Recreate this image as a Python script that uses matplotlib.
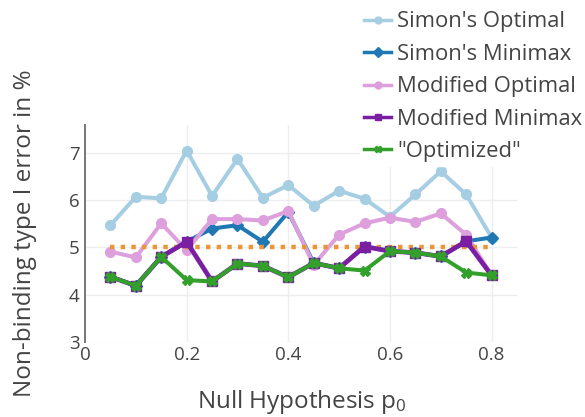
import matplotlib
matplotlib.use("Agg")
import matplotlib.pyplot as plt

plt.rcParams['font.family'] = ['Open Sans', 'DejaVu Sans']
plt.rcParams['mathtext.fontset'] = 'custom'
plt.rcParams['mathtext.rm'] = 'Open Sans'
plt.rcParams['mathtext.it'] = 'Open Sans:italic'

p0 = [0.05, 0.10, 0.15, 0.20, 0.25, 0.30, 0.35, 0.40, 0.45, 0.50, 0.55, 0.60, 0.65, 0.70, 0.75, 0.80]

simon_optimal = [5.47, 6.07, 6.04, 7.05, 6.09, 6.87, 6.05, 6.32, 5.88, 6.20, 6.03, 5.65, 6.12, 6.61, 6.12, 5.21]
simon_minimax = [4.38, 4.19, 4.80, 5.12, 5.40, 5.47, 5.12, 5.75, 4.67, 4.56, 5.02, 4.92, 4.89, 4.81, 5.13, 5.21]
modified_optimal = [4.91, 4.79, 5.51, 4.94, 5.60, 5.60, 5.57, 5.77, 4.63, 5.27, 5.51, 5.63, 5.54, 5.72, 5.27, 4.41]
modified_minimax = [4.38, 4.19, 4.80, 5.12, 4.28, 4.66, 4.61, 4.37, 4.67, 4.56, 5.02, 4.92, 4.89, 4.81, 5.13, 4.41]
optimized = [4.38, 4.19, 4.80, 4.31, 4.28, 4.66, 4.61, 4.37, 4.67, 4.56, 4.51, 4.92, 4.89, 4.81, 4.47, 4.41]

target_x = [0.05, 0.80]
target_y = [5.0, 5.0]

series_labels = ["Simon's Optimal", "Simon's Minimax", "Modified Optimal", "Modified Minimax", '"Optimized"']

x_ticks = [0, 0.2, 0.4, 0.6, 0.8]
x_tick_labels = ["0", "0.2", "0.4", "0.6", "0.8"]
y_ticks = [3, 4, 5, 6, 7]
y_tick_labels = ["3", "4", "5", "6", "7"]

W, H = 585, 417
fig = plt.figure(figsize=(W / 100, H / 100), dpi=100)
ax = fig.add_axes([85 / W, 1 - 342 / H, (518 - 85) / W, (342 - 125) / H])

txt = '#444444'
lw = 2.9
ax.plot(p0, simon_optimal, color='#a6cee3', lw=lw, marker='o', ms=7, label=series_labels[0], zorder=3)
ax.plot(p0, simon_minimax, color='#1f78b4', lw=lw, marker='D', ms=6.5, label=series_labels[1], zorder=4)
ax.plot(p0, modified_optimal, color='#dda0dd', lw=lw, marker='o', ms=7, label=series_labels[2], zorder=5)
ax.plot(target_x, target_y, color='#e8963a', lw=3.2, ls=(0, (1, 1.4)), zorder=5.5)
ax.plot(p0, modified_minimax, color='#7b1fa2', lw=3.4, marker='s', ms=7.5, label=series_labels[3], zorder=6)
ax.plot(p0, optimized, color='#33a02c', lw=lw, marker='X', ms=7, label=series_labels[4], zorder=7)

ax.set_xlim(0, 0.852)
ax.set_ylim(3, 7.59)
ax.set_xticks(x_ticks)
ax.set_xticklabels(x_tick_labels)
ax.set_yticks(y_ticks)
ax.set_yticklabels(y_tick_labels)
ax.tick_params(length=0, labelsize=13.5, labelcolor=txt)
ax.tick_params(axis='y', pad=4)
ax.tick_params(axis='x', pad=3)
ax.grid(True, color='#eeeeee', lw=1)
ax.set_axisbelow(True)
for s in ['top', 'right', 'bottom']:
    ax.spines[s].set_visible(False)
ax.spines['left'].set_color('#777777')
ax.spines['left'].set_linewidth(1.4)

ax.set_xlabel('Null Hypothesis p$_{0}$', fontsize=17.5, color=txt, labelpad=17.5)
ax.set_ylabel('Non-binding type I error in %', fontsize=17.5, color=txt, labelpad=23)

leg = fig.legend(loc='upper left', bbox_to_anchor=(360 / W, 1 - 7 / H), frameon=True,
                 fontsize=15.8, handlelength=1.23, handletextpad=0.25, labelspacing=0.52,
                 borderpad=0.2, borderaxespad=0)
leg.get_frame().set_facecolor('white')
leg.get_frame().set_edgecolor('white')
leg.get_frame().set_alpha(1)
leg.get_frame().set_boxstyle('square', pad=0)
for t in leg.get_texts():
    t.set_color(txt)
for h in leg.legend_handles:
    h.set_markersize(5)
    h.set_linewidth(2.5)

fig.savefig('out.png', dpi=100)
